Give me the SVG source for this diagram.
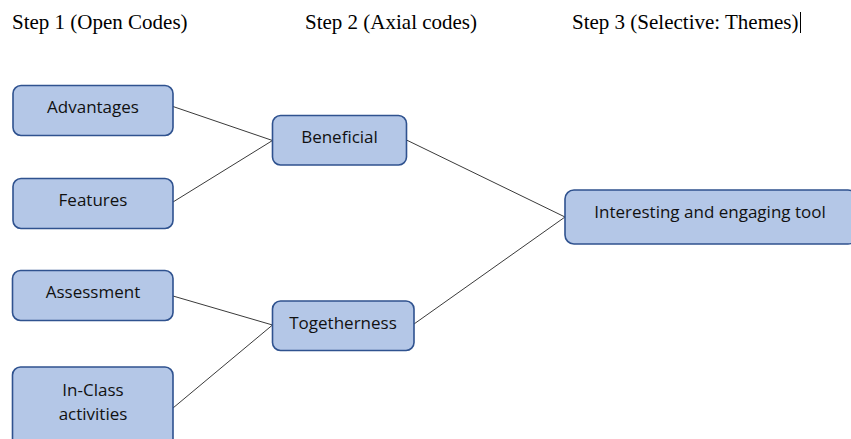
<svg xmlns="http://www.w3.org/2000/svg" width="851" height="439" viewBox="0 0 851 439">
<style>
.bg{fill:#ffffff}
.hdr{font-family:"Liberation Serif","Times New Roman",serif;font-size:21px;fill:#000}
.box{fill:#B4C7E7;stroke:#2F528F;stroke-width:1.6}
.lbl{font-family:"Open Sans","Noto Sans",sans-serif;font-size:17px;fill:#111;text-anchor:middle}
.conn line{stroke:#3a3a3a;stroke-width:1}
</style>
<rect class="bg" x="0" y="0" width="851" height="439"/>
<g id="headers">
<text class="hdr" x="12" y="29">Step 1 (Open Codes)</text>
<text class="hdr" x="305" y="29">Step 2 (Axial codes)</text>
<text class="hdr" x="572" y="29">Step 3 (Selective: Themes)</text>
<line x1="800.5" y1="12" x2="800.5" y2="33" stroke="#000" stroke-width="1"/>
</g>
<g id="connectors" class="conn">
<line x1="173" y1="106.5" x2="272.5" y2="140.5"/>
<line x1="173" y1="202" x2="272.5" y2="140.5"/>
<line x1="406.5" y1="140" x2="565" y2="217"/>
<line x1="414" y1="324" x2="565" y2="217"/>
<line x1="173" y1="296" x2="272.5" y2="325"/>
<line x1="173" y1="408" x2="272.5" y2="325"/>
</g>
<g id="advantages">
<rect class="box" x="13" y="85.5" width="160" height="50" rx="8"/>
<text class="lbl" x="93" y="113">Advantages</text>
</g>
<g id="features">
<rect class="box" x="13" y="178.5" width="160" height="50" rx="8"/>
<text class="lbl" x="93" y="205.5">Features</text>
</g>
<g id="assessment">
<rect class="box" x="12.5" y="270.5" width="160.5" height="50" rx="8"/>
<text class="lbl" x="93" y="297.5">Assessment</text>
</g>
<g id="inclass">
<rect class="box" x="12.5" y="367" width="160.5" height="90" rx="8"/>
<text class="lbl" x="93" y="396">In-Class</text>
<text class="lbl" x="93" y="420">activities</text>
</g>
<g id="beneficial">
<rect class="box" x="272.5" y="115.5" width="134" height="49.5" rx="8"/>
<text class="lbl" x="339.5" y="143">Beneficial</text>
</g>
<g id="togetherness">
<rect class="box" x="272.5" y="301" width="141.5" height="49.5" rx="8"/>
<text class="lbl" x="343" y="328.5">Togetherness</text>
</g>
<g id="interesting">
<rect class="box" x="565" y="190" width="292" height="54" rx="9"/>
<text class="lbl" x="710" y="217.5">Interesting and engaging tool</text>
</g>
</svg>
